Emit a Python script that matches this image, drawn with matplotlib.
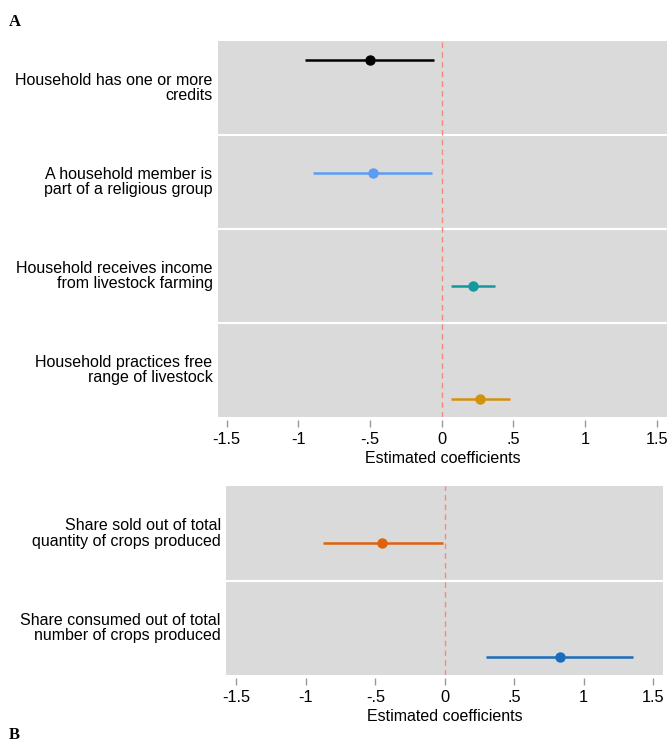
import matplotlib.pyplot as plt

plt.rcParams['font.family'] = ['Liberation Sans', 'DejaVu Sans']

# Panel 1 data
labels_a = ["Household has one or more\ncredits",
            "A household member is\npart of a religious group",
            "Household receives income\nfrom livestock farming",
            "Household practices free\nrange of livestock"]
coef_a = [-0.50, -0.48, 0.22, 0.27]
lo_a = [-0.95, -0.90, 0.065, 0.065]
hi_a = [-0.055, -0.07, 0.37, 0.475]
colors_a = ['#000000', '#5b9cf6', '#11999e', '#d4920c']

# Panel 2 data
labels_b = ["Share sold out of total\nquantity of crops produced",
            "Share consumed out of total\nnumber of crops produced"]
coef_b = [-0.45, 0.83]
lo_b = [-0.88, 0.30]
hi_b = [-0.01, 1.355]
colors_b = ['#e0620e', '#1a6cbc']

ticks = [-1.5, -1, -0.5, 0, 0.5, 1, 1.5]
tick_labels = ['-1.5', '-1', '-.5', '0', '.5', '1', '1.5']

fig = plt.figure(figsize=(6.68, 7.44), dpi=100)


def coef_panel(ax, labels, coef, lo, hi, colors, ylim, xlim):
    n = len(labels)
    ax.set_facecolor('#dadada')
    for s in ax.spines.values():
        s.set_visible(False)
    ax.spines['bottom'].set_position(('outward', 2))
    pos = list(range(1, n + 1))
    for y, c, l, h, col in zip(pos, coef, lo, hi, colors):
        ax.plot([l, h], [y, y], color=col, lw=1.8, solid_capstyle='butt', zorder=3)
        ax.plot(c, y, 'o', color=col, ms=6.5, zorder=4)
    ax.axvline(0, color='#f5897c', lw=1, ls=(0, (4, 3)), zorder=2)
    # band separators and row labels (axes fraction)
    for k in range(1, n):
        ax.plot([0, 1], [1 - k / n, 1 - k / n], color='white', lw=1.5,
                transform=ax.transAxes, zorder=1)
    for k, lab in enumerate(labels):
        ax.text(-0.012, 1 - (k + 0.5) / n, lab, transform=ax.transAxes,
                ha='right', va='center', fontsize=11.5, linespacing=1.04)
    ax.set_ylim(*ylim)
    ax.set_xlim(*xlim)
    ax.set_yticks([])
    ax.set_xticks(ticks)
    ax.set_xticklabels(tick_labels, fontsize=11.8)
    ax.tick_params(axis='x', length=5, color='#999999', width=1, pad=4)
    ax.set_xlabel('Estimated coefficients', fontsize=11.5, labelpad=3)


ax1 = fig.add_axes([0.3263, 0.4395, 0.672, 0.5054])
coef_panel(ax1, labels_a, coef_a, lo_a, hi_a, colors_a,
           (4.159, 0.832), (-1.56, 1.57))

ax2 = fig.add_axes([0.3383, 0.0927, 0.654, 0.254])
coef_panel(ax2, labels_b, coef_b, lo_b, hi_b, colors_b,
           (2.158, 0.503), (-1.575, 1.57))

fig.text(0.013, 0.9704, 'A', fontsize=12, fontweight='bold',
         family='Liberation Serif', va='center')
fig.text(0.013, 0.001, 'B', fontsize=12, fontweight='bold',
         family='Liberation Serif', va='bottom')

fig.savefig('out.png', dpi=100, facecolor='white')
